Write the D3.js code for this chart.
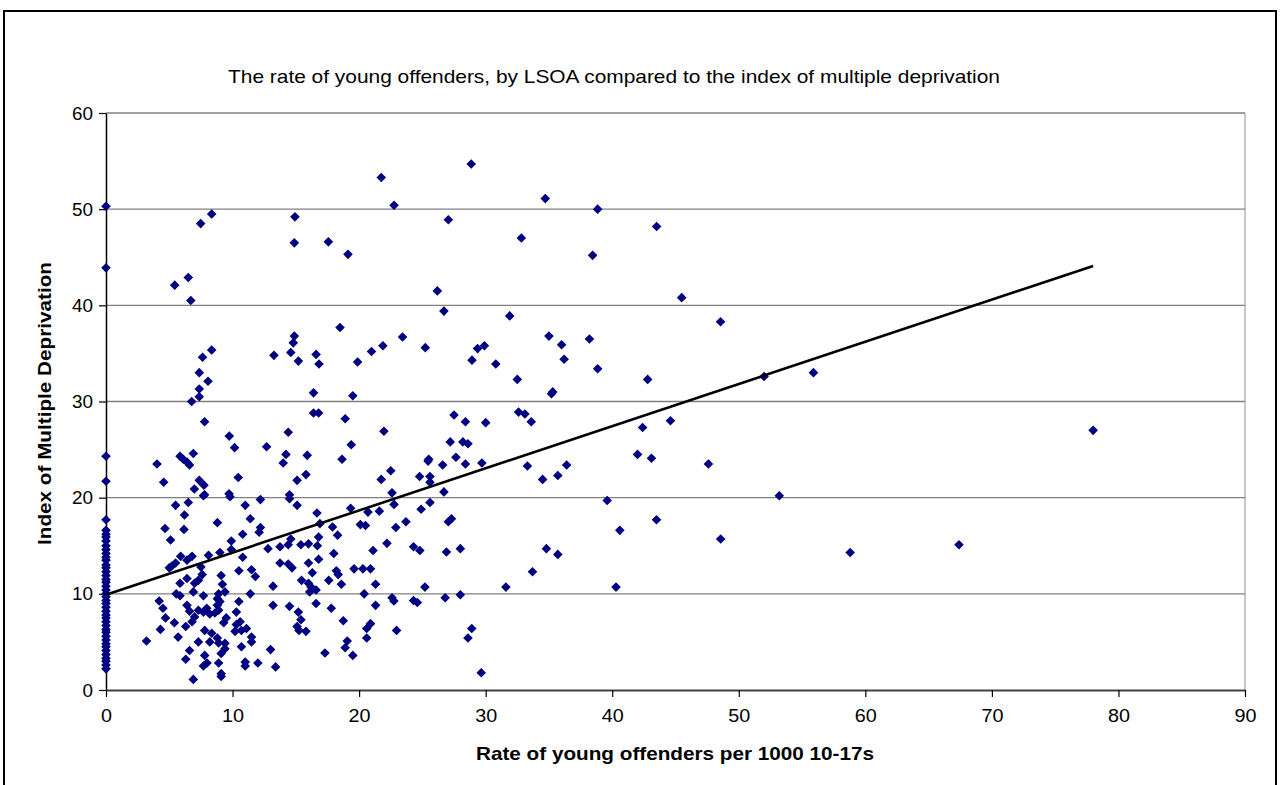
<!DOCTYPE html>
<html>
<head>
<meta charset="utf-8">
<script src="https://cdn.jsdelivr.net/npm/d3@7"></script>
<style>
  html, body { margin: 0; padding: 0; background: #fff; }
  svg { display: block; }
  text { font-family: "Liberation Sans", Arial, sans-serif; fill: #000; }
</style>
</head>
<body>
<svg id="chart" width="1282" height="785"></svg>
<script>
// ---------------- DATA ----------------
const chartTitle = "The rate of young offenders, by LSOA compared to the index of multiple deprivation";
const xAxisTitle = "Rate of young offenders per 1000 10-17s";
const yAxisTitle = "Index of Multiple Deprivation";
const xTicks = [0, 10, 20, 30, 40, 50, 60, 70, 80, 90];
const yTicks = [0, 10, 20, 30, 40, 50, 60];

// LSOAs with a rate of 0 (IMD values)
const zeroRateIMD = [50.3, 43.9, 24.3, 21.7, 17.7, 16.6, 16.2, 15.9, 15.5, 15.0, 14.6, 14.2, 13.8, 13.5, 13.0,
  12.7, 12.3, 11.9, 11.5, 11.2, 10.8, 10.4, 10.0, 9.7, 9.3, 9.0, 8.6, 8.2, 7.8, 7.5, 7.1, 6.7, 6.3, 6.0,
  5.6, 5.2, 4.8, 4.5, 4.1, 3.7, 3.3, 3.0, 2.6, 2.2];

// [rate, IMD] for LSOAs with a non-zero rate
const lsoaPoints = [
  [8.35,49.5],[7.48,48.5],[14.93,49.2],[14.88,46.5],[5.43,42.1],[6.5,42.9],[6.7,40.5],
  [21.75,53.3],[28.86,54.7],[22.76,50.4],[27.05,48.9],[17.57,46.6],[19.12,45.3],[26.18,41.5],
  [34.71,51.1],[38.85,50.0],[32.82,47.0],[43.51,48.2],[38.45,45.2],[45.49,40.8],
  [8.35,35.35],[7.63,34.6],[7.37,33.0],[8.06,32.1],[7.37,31.3],[7.37,30.5],[6.77,30.0],[7.79,27.9],
  [9.74,26.4],[10.16,25.2],[12.69,25.3],[14.4,26.8],[14.22,24.5],[14.0,23.6],[14.88,36.8],[14.8,36.1],
  [13.27,34.8],[14.6,35.1],[15.2,34.2],[4.03,23.5],[4.56,21.6],[5.85,24.3],[6.1,24.0],[6.4,23.7],
  [6.6,23.4],[6.9,24.6],[7.37,21.8],[7.74,21.3],[6.98,20.9],[10.45,22.1],[9.72,20.4],[14.5,20.3],
  [15.1,21.8],[7.79,20.3],
  [26.7,39.4],[18.49,37.7],[16.6,34.9],[16.83,33.9],[19.88,34.1],[20.98,35.2],[21.88,35.8],[23.43,36.7],
  [25.23,35.6],[28.92,34.3],[29.36,35.5],[29.9,35.8],[30.8,33.9],[16.4,30.9],[19.5,30.6],[16.4,28.8],
  [16.8,28.8],[18.9,28.2],[21.96,26.9],[27.5,28.6],[28.4,27.9],[30.0,27.8],[19.38,25.5],[15.9,24.4],
  [18.65,24.0],[27.2,25.8],[28.2,25.8],[28.6,25.6],[27.65,24.2],[25.5,24.0],[25.45,23.8],[26.6,23.4],
  [28.4,23.5],[29.7,23.6],[22.5,22.8],[21.75,21.9],[24.78,22.2],[25.6,22.2],[25.6,21.6],[15.8,22.4],
  [22.6,20.5],[26.7,20.6],
  [31.9,38.9],[35.0,36.8],[36.0,35.9],[38.2,36.5],[36.2,34.4],[38.85,33.4],[32.5,32.3],[35.3,31.0],
  [35.2,30.8],[42.8,32.3],[32.6,28.9],[33.1,28.7],[33.6,27.9],[42.4,27.3],[44.6,28.0],[42.0,24.5],
  [43.1,24.1],[33.3,23.3],[36.4,23.4],[34.5,21.9],[35.7,22.3],
  [48.56,38.3],[52.0,32.6],[55.9,33.0],[78.0,27.0],[47.6,23.5],[53.2,20.2],[48.57,15.7],[58.8,14.3],[67.4,15.1],
  [39.6,19.7],[43.5,17.7],[40.6,16.6],[34.8,14.7],[35.7,14.1],[33.7,12.3],[31.6,10.7],[40.3,10.7],
  [16.67,18.4],[19.33,18.9],[20.7,18.5],[21.6,18.6],[22.76,19.3],[24.9,18.8],[25.6,19.5],
  [27.05,17.5],[27.3,17.8],[16.9,17.3],[17.9,16.95],[18.3,16.1],[20.1,17.2],[20.5,17.1],[22.9,16.9],
  [23.7,17.5],[16.8,15.9],[15.4,15.1],[16.0,15.2],[16.7,15.0],[18.0,14.2],[21.1,14.5],[22.2,15.25],
  [24.3,14.9],[24.8,14.5],[26.9,14.35],[28.0,14.7],[16.8,13.6],[16.0,13.2],[16.3,12.2],[15.45,11.4],
  [16.0,11.1],[16.2,10.7],[16.1,10.2],[16.6,10.4],[17.6,11.4],[18.2,12.4],[18.35,12.0],[18.6,11.0],
  [19.6,12.6],[20.3,12.6],[20.9,12.6],[21.3,11.0],[20.4,10.0],[21.3,8.8],[22.6,9.6],[22.75,9.25],
  [24.3,9.3],[24.6,9.1],[25.2,10.7],[26.8,9.6],[28.0,9.9],[15.2,8.1],[15.4,7.3],[15.1,6.6],[15.25,6.2],
  [15.8,6.1],[16.6,9.0],[17.8,8.5],[18.75,7.2],[20.9,6.9],[20.6,6.4],[20.6,5.4],[22.96,6.2],[19.06,5.1],
  [18.9,4.4],[17.3,3.85],[19.5,3.6],[28.9,6.4],[28.6,5.4],[29.65,1.8],
  [5.5,19.2],[6.5,19.5],[7.7,20.2],[9.8,20.1],[11.0,19.2],[12.2,19.8],[14.5,19.9],[15.1,19.2],[6.2,18.2],
  [4.66,16.8],[6.16,16.7],[8.8,17.4],[11.4,17.8],[12.2,16.9],[12.1,16.4],[10.8,16.2],[5.1,15.6],[9.9,15.5],
  [14.6,15.7],[12.8,14.7],[13.75,14.9],[14.4,15.1],[10.8,13.8],[9.9,14.6],[9.0,14.3],[8.1,14.0],
  [5.9,13.9],[6.8,13.9],[6.4,13.5],[5.2,12.9],[5.5,13.2],[5.0,12.7],[7.5,12.8],[7.6,12.0],[7.3,11.4],
  [7.0,11.1],[10.5,12.4],[11.5,12.5],[11.8,11.8],[13.75,13.2],[14.4,13.1],[14.7,12.7],[6.4,11.6],
  [5.85,11.1],[9.1,11.9],[9.2,11.0],[9.4,10.2],[8.9,10.0],[8.8,9.5],[13.2,10.8],[5.55,10.0],[5.85,9.8],
  [6.9,10.2],[7.7,9.8],[11.4,10.0],[4.2,9.25],[4.5,8.5],[6.4,8.8],[6.6,8.2],[7.3,8.3],[7.7,8.1],
  [7.96,8.5],[8.2,7.9],[7.0,7.6],[6.8,7.1],[8.6,8.0],[8.9,8.3],[8.8,8.8],[9.0,9.2],[9.5,7.5],[9.3,7.0],
  [4.7,7.5],[5.4,7.0],[6.3,6.6],[4.3,6.3],[5.7,5.5],[3.2,5.1],[7.8,6.2],[8.35,5.9],[8.8,5.4],[8.2,5.0],
  [8.9,4.9],[7.3,5.0],[10.3,8.1],[10.6,7.1],[10.3,6.8],[10.2,6.1],[10.7,6.2],[10.5,9.2],[11.1,6.4],
  [11.5,5.5],[11.5,5.0],[10.7,4.5],[13.2,8.8],[14.5,8.7],[9.4,4.85],[9.4,4.3],[9.1,3.8],[6.6,4.1],
  [6.3,3.2],[7.8,3.6],[7.98,2.8],[7.7,2.5],[8.9,2.8],[9.1,1.7],[9.1,1.4],[6.9,1.1],[11.0,2.9],[11.0,2.5],
  [12.0,2.8],[13.4,2.4],[13.0,4.2]
];

// Linear trend line end points [rate, IMD]
const trendRate = [0, 78];
const trendIMD = [9.9, 44.1];

// ---------------- CHART ----------------
const svg = d3.select("#chart");
const plot = { left: 106, right: 1245, top: 113, bottom: 690 };

const x = d3.scaleLinear().domain([0, 90]).range([plot.left, plot.right]);
const y = d3.scaleLinear().domain([0, 60]).range([plot.bottom, plot.top]);

// outer frame
svg.append("rect")
  .attr("x", 4).attr("y", 11).attr("width", 1272).attr("height", 800)
  .attr("fill", "none").attr("stroke", "#000").attr("stroke-width", 2);

// right border of plot area
svg.append("line")
  .attr("x1", plot.right).attr("x2", plot.right)
  .attr("y1", plot.top).attr("y2", plot.bottom)
  .attr("stroke", "#909090").attr("stroke-width", 1);

// gridlines
svg.append("g")
  .selectAll("line")
  .data(yTicks.filter(d => d > 0))
  .join("line")
  .attr("x1", plot.left).attr("x2", plot.right)
  .attr("y1", d => y(d)).attr("y2", d => y(d))
  .attr("stroke", "#808080").attr("stroke-width", 1.3);

const tickFont = 19;

// y axis
const yAxis = svg.append("g")
  .attr("transform", `translate(${plot.left},0)`)
  .call(d3.axisLeft(y).tickValues(yTicks).tickSize(7).tickPadding(6).tickSizeOuter(0));
yAxis.select(".domain").attr("stroke", "#000").attr("stroke-width", 1.5);
yAxis.selectAll(".tick line").attr("stroke", "#000").attr("stroke-width", 1.2);
yAxis.selectAll("text").attr("font-size", tickFont).attr("font-family", "Liberation Sans, Arial, sans-serif")
  .attr("fill", "#000").attr("textLength", d => d >= 10 ? 21 : 10.5).attr("lengthAdjust", "spacingAndGlyphs");

// x axis
const xAxis = svg.append("g")
  .attr("transform", `translate(0,${plot.bottom})`)
  .call(d3.axisBottom(x).tickValues(xTicks).tickSize(7).tickPadding(12).tickSizeOuter(0));
xAxis.select(".domain").attr("stroke", "#404040").attr("stroke-width", 2);
xAxis.selectAll(".tick line").attr("stroke", "#000").attr("stroke-width", 1.2);
xAxis.selectAll("text").attr("font-size", tickFont).attr("font-family", "Liberation Sans, Arial, sans-serif")
  .attr("fill", "#000").attr("textLength", d => d >= 10 ? 22 : 11).attr("lengthAdjust", "spacingAndGlyphs");

// markers
const diamond = "M0,-4.8L4.8,0L0,4.8L-4.8,0Z";
const allPoints = zeroRateIMD.map(v => [0, v]).concat(lsoaPoints);
svg.append("g")
  .selectAll("path")
  .data(allPoints)
  .join("path")
  .attr("d", diamond)
  .attr("transform", d => `translate(${x(d[0])},${y(d[1])})`)
  .attr("fill", "#000080");

// trend line
svg.append("line")
  .attr("x1", x(trendRate[0])).attr("y1", y(trendIMD[0]))
  .attr("x2", x(trendRate[1])).attr("y2", y(trendIMD[1]))
  .attr("stroke", "#000").attr("stroke-width", 2.6);

// titles
svg.append("text")
  .attr("x", 614).attr("y", 83)
  .attr("text-anchor", "middle")
  .attr("font-size", 18.5)
  .attr("textLength", 772).attr("lengthAdjust", "spacingAndGlyphs")
  .text(chartTitle);

svg.append("text")
  .attr("x", 675).attr("y", 760)
  .attr("text-anchor", "middle")
  .attr("font-size", 18.5).attr("font-weight", "bold")
  .attr("textLength", 398).attr("lengthAdjust", "spacingAndGlyphs")
  .text(xAxisTitle);

svg.append("text")
  .attr("transform", `translate(51,${(plot.top + plot.bottom) / 2 + 2}) rotate(-90)`)
  .attr("text-anchor", "middle")
  .attr("font-size", 18.5).attr("font-weight", "bold")
  .attr("textLength", 283).attr("lengthAdjust", "spacingAndGlyphs")
  .text(yAxisTitle);
</script>
</body>
</html>
